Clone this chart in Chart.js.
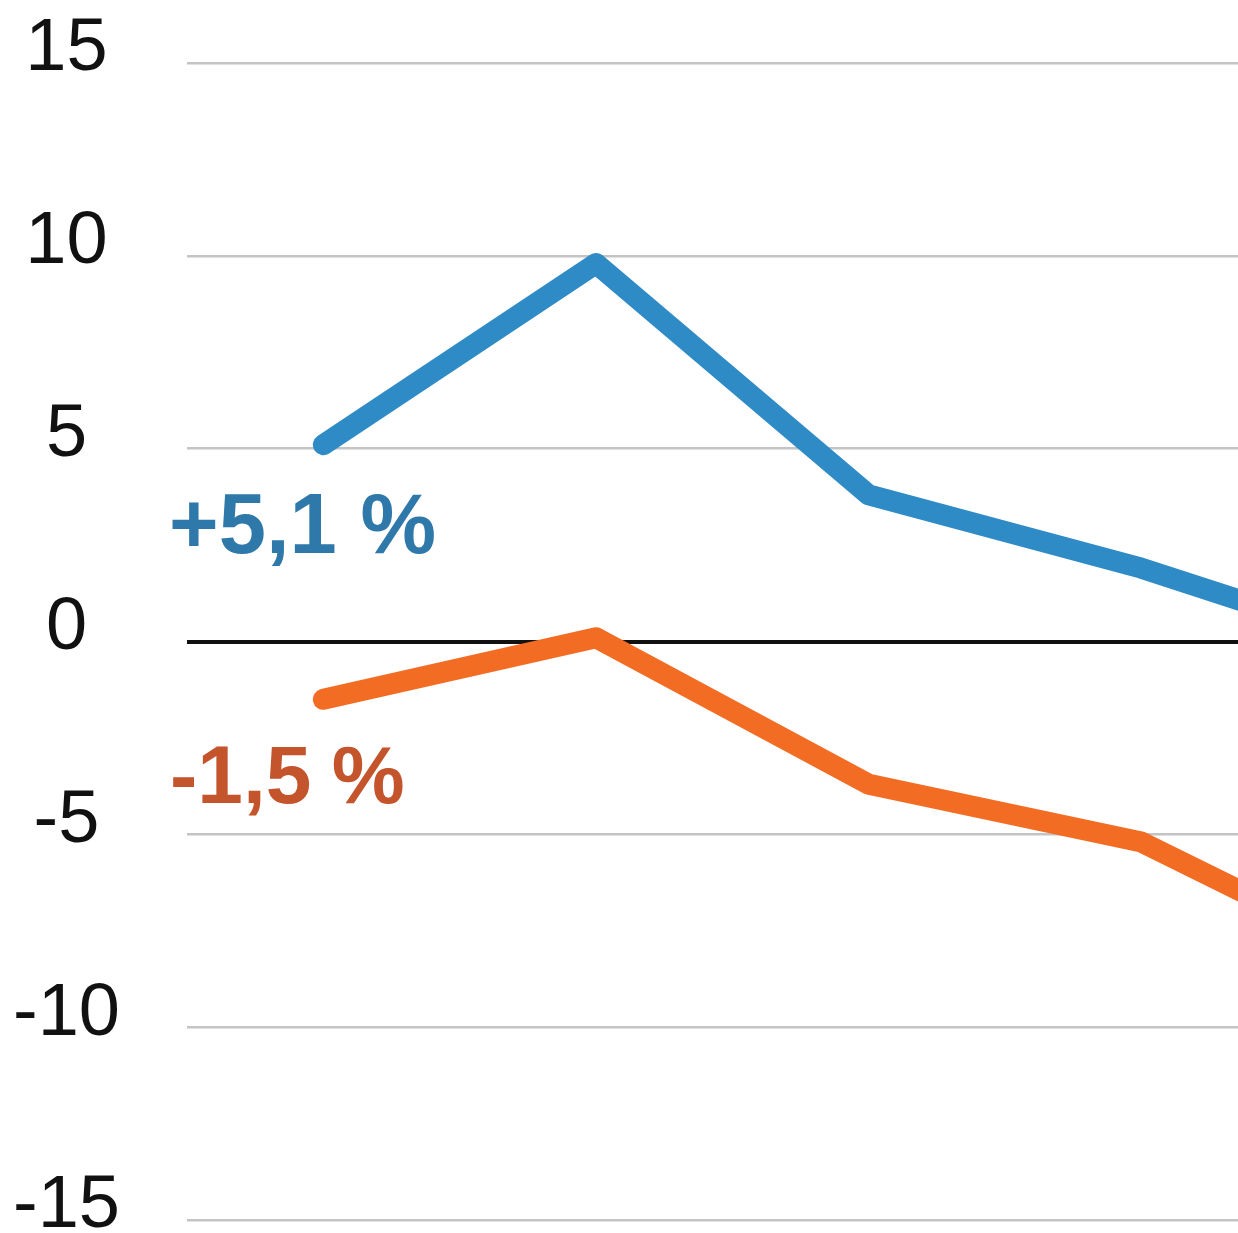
<!DOCTYPE html>
<html>
<head>
<meta charset="utf-8">
<script src="https://cdn.jsdelivr.net/npm/chart.js@4.4.1/dist/chart.umd.min.js"></script>
<style>
    html, body { margin: 0; padding: 0; background: #ffffff; }
    #wrap { width: 1238px; height: 1233px; position: relative; }
</style>
</head>
<body>
<div id="wrap"><canvas id="growthChart"></canvas></div>
<script>
// Periods (x positions are their index)
const periods = ['P1', 'P2', 'P3', 'P4', 'P5'];
// Series
const blueValues = [5.1, 9.8, 3.8, 1.9, -0.4];
const orangeValues = [-1.5, 0.1, -3.7, -5.2, -8.7];
// Y axis ticks
const yTicks = [-15, -10, -5, 0, 5, 10, 15];
// Callout labels
const blueLabel = '+5,1 %';
const orangeLabel = '-1,5\u2005%';

const BLUE = '#2e8bc6';
const ORANGE = '#f36c24';

// Draws the two bold callouts next to the first points
const calloutPlugin = {
    id: 'callouts',
    afterDatasetsDraw(chart) {
        const { ctx, chartArea, scales } = chart;
        const y = scales.y;
        ctx.save();
        ctx.textAlign = 'left';
        ctx.textBaseline = 'alphabetic';
        ctx.font = 'bold 85px "Liberation Sans", Arial, sans-serif';
        ctx.fillStyle = '#2f78aa';
        ctx.fillText(blueLabel, chartArea.left - 18, y.getPixelForValue(2.3));
        ctx.font = 'bold 82px "Liberation Sans", Arial, sans-serif';
        ctx.fillStyle = '#c4542b';
        ctx.fillText(orangeLabel, chartArea.left - 17, y.getPixelForValue(-4.18));
        ctx.restore();
    }
};

function initChart() {
    const canvas = document.getElementById('growthChart');
    const ctx = canvas.getContext('2d');

    new Chart(ctx, {
        type: 'line',
        data: {
            datasets: [{
                label: 'Blue',
                data: periods.map((p, i) => ({ x: i, y: blueValues[i] })),
                borderColor: BLUE,
                borderWidth: 21,
                borderCapStyle: 'round',
                borderJoinStyle: 'round',
                pointRadius: 0,
                tension: 0
            }, {
                label: 'Orange',
                data: periods.map((p, i) => ({ x: i, y: orangeValues[i] })),
                borderColor: ORANGE,
                borderWidth: 21,
                borderCapStyle: 'round',
                borderJoinStyle: 'round',
                pointRadius: 0,
                tension: 0
            }]
        },
        options: {
            responsive: true,
            maintainAspectRatio: false,
            animation: false,
            layout: { padding: { top: 63, bottom: 13, left: 0, right: 0 } },
            plugins: {
                legend: { display: false },
                tooltip: { enabled: false }
            },
            scales: {
                x: {
                    type: 'linear',
                    display: false,
                    min: -0.5,
                    max: 3.354
                },
                y: {
                    min: -15,
                    max: 15,
                    afterBuildTicks: (scale) => {
                        scale.ticks = yTicks.map(v => ({ value: v }));
                    },
                    afterFit: (scale) => {
                        scale.width = 187;
                        scale.paddingTop = 0;
                        scale.paddingBottom = 0;
                    },
                    border: { display: false },
                    grid: {
                        drawTicks: false,
                        color: (c) => c.tick && c.tick.value === 0 ? '#111111' : '#c4c4c4',
                        lineWidth: (c) => c.tick && c.tick.value === 0 ? 4 : 2.5
                    },
                    ticks: {
                        color: '#111111',
                        padding: 67,
                        crossAlign: 'center',
                        font: { family: '"Liberation Sans", Arial, sans-serif', size: 74, lineHeight: '26px' },
                        // second empty line lifts the number above its grid line
                        callback: (value) => [String(value), '']
                    }
                }
            }
        },
        plugins: [calloutPlugin]
    });
}

initChart();
</script>
</body>
</html>
